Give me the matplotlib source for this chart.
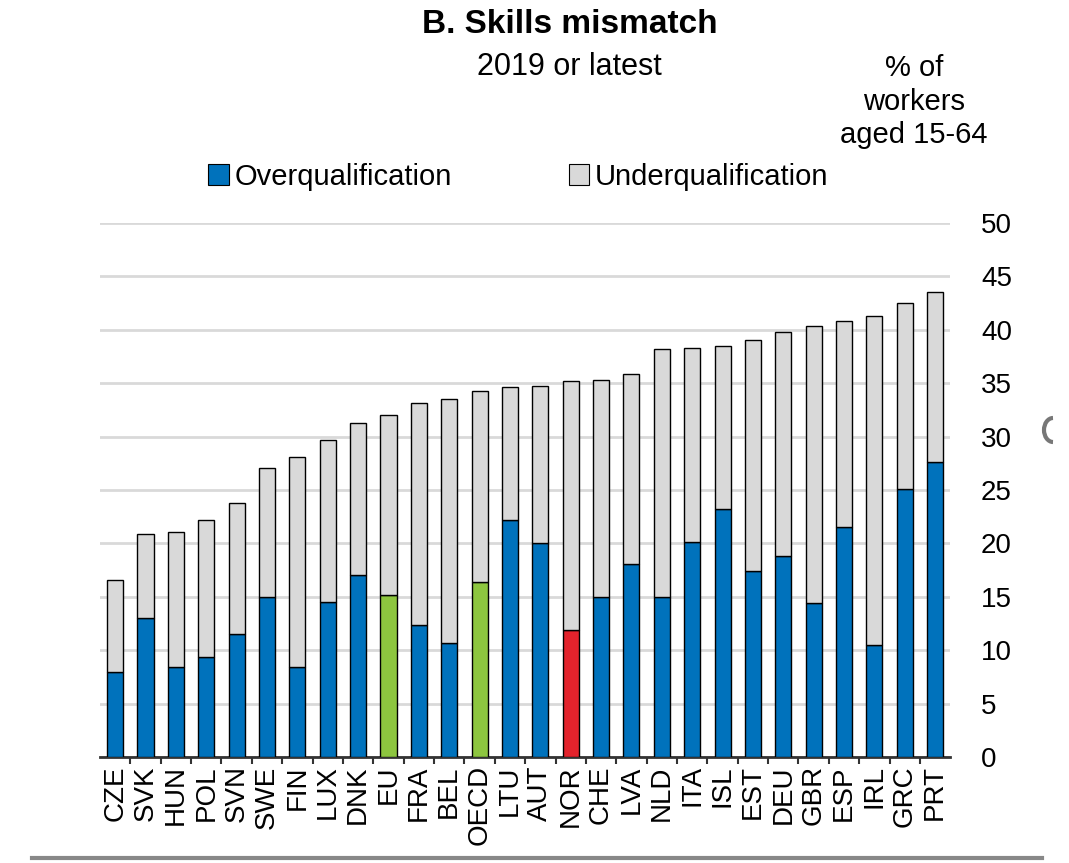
import numpy as np
import matplotlib
matplotlib.use("Agg")
import matplotlib.pyplot as plt
from matplotlib.lines import Line2D
from matplotlib.patches import Patch, Arc

plt.rcParams['font.family'] = ['Liberation Sans Narrow', 'Liberation Sans', 'DejaVu Sans']

countries = ["CZE", "SVK", "HUN", "POL", "SVN", "SWE", "FIN", "LUX", "DNK", "EU",
             "FRA", "BEL", "OECD", "LTU", "AUT", "NOR", "CHE", "LVA", "NLD", "ITA",
             "ISL", "EST", "DEU", "GBR", "ESP", "IRL", "GRC", "PRT"]
overqual = [8.0, 13.0, 8.4, 9.4, 11.5, 15.0, 8.4, 14.5, 17.0, 15.2,
            12.4, 10.7, 16.4, 22.2, 20.0, 11.9, 15.0, 18.1, 15.0, 20.1,
            23.2, 17.4, 18.8, 14.4, 21.5, 10.5, 25.1, 27.6]
total = [16.6, 20.9, 21.1, 22.2, 23.8, 27.1, 28.1, 29.7, 31.3, 32.0,
         33.1, 33.5, 34.3, 34.6, 34.7, 35.2, 35.3, 35.9, 38.2, 38.3,
         38.5, 39.0, 39.8, 40.4, 40.8, 41.3, 42.5, 43.5]
underqual = [t - o for t, o in zip(total, overqual)]

BLUE = '#0072bc'
GREY = '#d9d9d9'
GREEN = '#8dc63f'
RED = '#e3232c'

colors = []
for c in countries:
    if c in ("EU", "OECD"):
        colors.append(GREEN)
    elif c == "NOR":
        colors.append(RED)
    else:
        colors.append(BLUE)

fig = plt.figure(figsize=(10.69, 8.63), dpi=100)
ax = fig.add_axes([0.0935, 0.1228, 0.7955, 0.6188])

x = np.arange(len(countries))
ax.bar(x, overqual, width=0.53, color=colors, edgecolor='black', linewidth=1.0, zorder=3)
ax.bar(x, underqual, bottom=overqual, width=0.53, color=GREY, edgecolor='black',
       linewidth=1.0, zorder=3)

ax.set_xlim(-0.5, len(countries) - 0.5)
ax.set_ylim(0, 50)
ax.set_yticks(np.arange(0, 51, 5))
ax.yaxis.tick_right()
ax.tick_params(axis='y', length=0, labelsize=20, pad=22)
ax.grid(axis='y', color='#d9d9d9', linewidth=2, zorder=0)

ax.set_xticks(x)
ax.set_xticklabels(countries, rotation=90, fontsize=20)
ax.set_xticks(x[:-1] + 0.5, minor=True)
ax.tick_params(axis='x', which='major', length=0, pad=6)
ax.tick_params(axis='x', which='minor', length=5, width=1.5, color='#333333')

for s in ('left', 'right', 'top'):
    ax.spines[s].set_visible(False)
ax.spines['bottom'].set_color('#333333')
ax.spines['bottom'].set_linewidth(2)

fig.text(0.533, 0.972, "B. Skills mismatch", ha='center', va='center',
         fontsize=24, fontweight='bold')
fig.text(0.533, 0.922, "2019 or latest", ha='center', va='center', fontsize=22)
fig.text(0.855, 0.882, "% of\nworkers\naged 15-64", ha='center', va='center',
         fontsize=21, linespacing=1.25)

handles = [Patch(facecolor=BLUE, edgecolor='black', linewidth=0.8),
           Patch(facecolor=GREY, edgecolor='black', linewidth=0.8)]
fig.legend(handles, ["Overqualification", "Underqualification"], loc='center',
           bbox_to_anchor=(0.485, 0.795), ncol=2, frameon=False, fontsize=21,
           handlelength=0.7, handleheight=0.7, handletextpad=0.2, columnspacing=4.0)

# screenshot frame remnants
fig.add_artist(Line2D([0.03, 0.975], [0.006, 0.006], color='#888888', linewidth=3))
fig.add_artist(Arc((1053 / 1069, 1 - 430 / 863), 18 / 1069, 24 / 863, theta1=90, theta2=270,
                   transform=fig.transFigure, color='#777777', linewidth=3))

fig.savefig("out.png", dpi=100)
